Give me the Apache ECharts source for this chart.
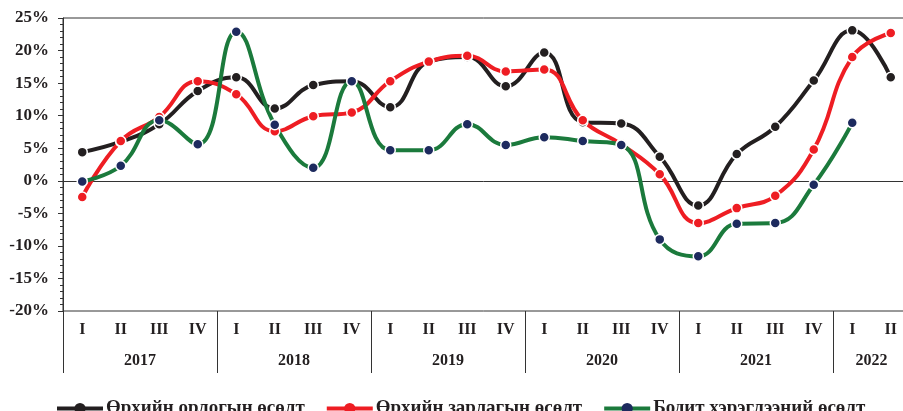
<!DOCTYPE html>
<html>
<head>
<meta charset="utf-8">
<script src="https://cdn.jsdelivr.net/npm/echarts@6/dist/echarts.min.js"></script>
<style>
    html, body { margin: 0; padding: 0; background: #fff; }
    #chart { width: 903px; height: 411px; }
</style>
</head>
<body>
<div id="chart"></div>
<script>
    // quarters 2017 I .. 2022 II
    var quarters = ["I", "II", "III", "IV", "I", "II", "III", "IV", "I", "II", "III", "IV",
        "I", "II", "III", "IV", "I", "II", "III", "IV", "I", "II"];
    // year label sits at the first quarter of the pair it is centred on
    var years = ["", "2017", "", "", "", "2018", "", "", "", "2019", "", "",
        "", "2020", "", "", "", "2021", "", "", "2022", ""];

    var income = [4.4, 6.0, 8.7, 13.8, 15.9, 11.1, 14.7, 15.3, 11.3, 18.3, 19.0, 14.5,
        19.7, 9.0, 8.8, 3.7, -3.8, 4.1, 8.3, 15.4, 23.1, 15.9];
    var spending = [-2.5, 6.1, 9.8, 15.3, 13.3, 7.6, 9.9, 10.5, 15.3, 18.3, 19.2, 16.8,
        17.1, 9.3, 5.6, 1.0, -6.5, -4.2, -2.3, 4.8, 19.0, 22.7];
    var consumption = [-0.1, 2.3, 9.3, 5.6, 22.9, 8.6, 2.0, 15.3, 4.7, 4.7, 8.7, 5.5,
        6.7, 6.1, 5.5, -9.0, -11.6, -6.6, -6.5, -0.6, 8.9, null];

    var font = "'Liberation Serif', 'DejaVu Serif', serif";
    var txt = "#231f20";

    var chart = echarts.init(document.getElementById("chart"));

    function lineSeries(name, data, lineColor, dotColor) {
        return {
            name: name,
            type: "line",
            data: data,
            smooth: 0.45,
            symbol: "circle",
            symbolSize: 10,
            lineStyle: { color: lineColor, width: 4 },
            itemStyle: { color: dotColor, borderColor: "#fff", borderWidth: 1.5 },
            emphasis: { disabled: true }
        };
    }

    var option = {
        animation: false,
        grid: {
            left: 63,
            top: 18,
            width: 847,
            bottom: 100,
            outerBoundsMode: "none",
            containLabel: false,
            show: true,
            borderColor: "#333",
            borderWidth: 1
        },
        legend: {
            left: 50,
            top: 394,
            itemWidth: 46,
            itemHeight: 14,
            itemGap: 20,
            lineStyle: { width: 4 },
            itemStyle: { borderWidth: 0 },
            textStyle: { fontFamily: font, fontWeight: "bold", fontSize: 19, color: txt, padding: [0, 0, 0, -2] },
            data: ["Өрхийн орлогын өсөлт", "Өрхийн зарлагын өсөлт", "Бодит хэрэглээний өсөлт"]
        },
        xAxis: [
            {
                type: "category",
                data: quarters,
                position: "bottom",
                boundaryGap: true,
                axisLine: { show: true, lineStyle: { color: "#333", width: 1 } },
                axisTick: { show: false },
                axisLabel: {
                    interval: 0,
                    margin: 11,
                    fontFamily: font,
                    fontWeight: "bold",
                    fontSize: 16,
                    color: txt
                }
            },
            {
                type: "category",
                data: years,
                position: "bottom",
                boundaryGap: true,
                axisLine: { show: false },
                axisTick: {
                    show: true,
                    length: 62,
                    interval: function (i) { return i % 4 === 0; },
                    lineStyle: { color: "#333", width: 1 }
                },
                axisLabel: {
                    interval: 0,
                    margin: 42,
                    fontFamily: font,
                    fontWeight: "bold",
                    fontSize: 16,
                    color: txt,
                    padding: [0, 0, 0, 38.5]
                }
            }
        ],
        yAxis: {
            type: "value",
            min: -20,
            max: 25,
            interval: 5,
            axisLine: { show: true, lineStyle: { color: "#333", width: 1 } },
            axisTick: { show: true, length: 5, lineStyle: { color: "#333" } },
            minorTick: { show: true, splitNumber: 5, length: 3, lineStyle: { color: "#333" } },
            splitLine: { show: false },
            axisLabel: {
                margin: 14,
                formatter: "{value}%",
                fontFamily: font,
                fontWeight: "bold",
                fontSize: 17,
                color: txt
            }
        },
        series: [
            lineSeries("Өрхийн орлогын өсөлт", income, "#231f20", "#231f20"),
            lineSeries("Өрхийн зарлагын өсөлт", spending, "#ee1d23", "#ee1d23"),
            lineSeries("Бодит хэрэглээний өсөлт", consumption, "#1b7a3c", "#1d2a5e")
        ]
    };

    chart.setOption(option);
</script>
</body>
</html>
